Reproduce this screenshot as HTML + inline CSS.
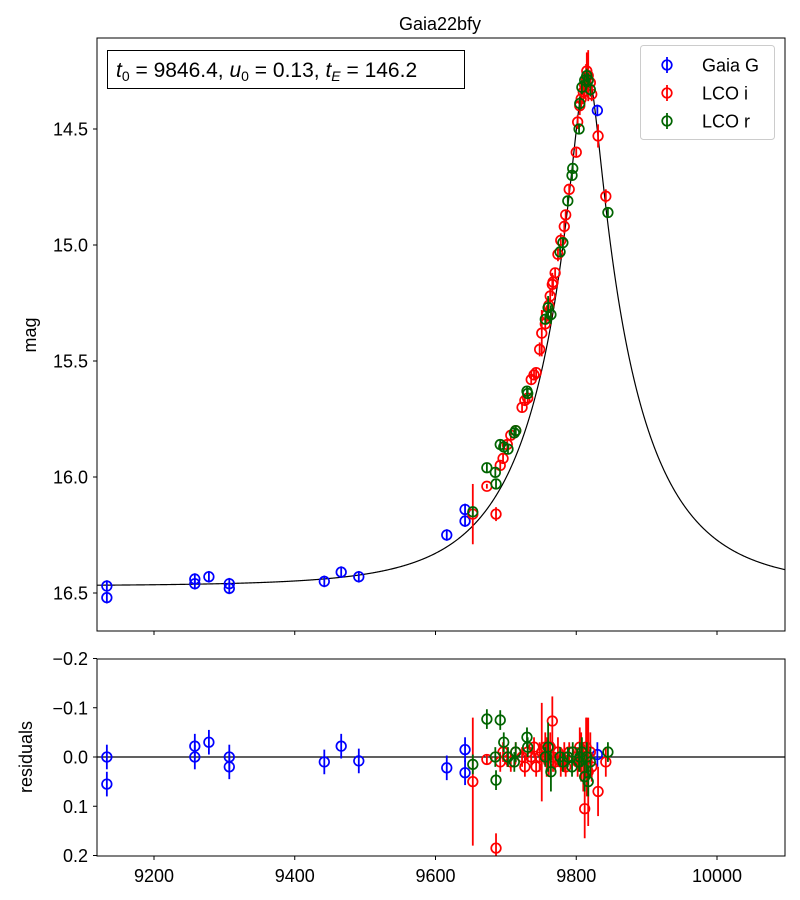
<!DOCTYPE html>
<html><head><meta charset="utf-8"><style>
body{margin:0;background:#fff}
svg{display:block;font-family:"Liberation Sans","DejaVu Sans",sans-serif}
</style></head><body>
<svg id="c" width="800" height="900"></svg>
<script>
const modelT0=[9815]; const modelU0=[0.13]; const modelTE=[146.2]; const baseMag=[16.47];
const gT=[9133,9133,9258,9258,9278,9307,9307,9442,9466,9491,9616,9642,9642,9830];
const gM=[16.47,16.52,16.46,16.44,16.43,16.46,16.48,16.45,16.41,16.43,16.25,16.14,16.19,14.42];
const gE=[.025,.025,.025,.025,.025,.025,.025,.025,.025,.025,.025,.025,.025,.025];
const gR=[0,.055,0,-.022,-.03,0,.02,.01,-.022,.008,.022,-.015,.032,-.005];
const iT=[9653,9673,9686,9692,9696,9702,9707,9714,9723,9727,9731,9736,9740,9743,9748,9751,9756,9758,9761,9763,9766,9767,9770,9774,9778,9783,9785,9790,9800,9802,9805,9807,9810,9812,9814,9815,9817,9820,9822,9831,9842];
const iM=[16.16,16.04,16.16,15.95,15.92,15.86,15.82,15.80,15.70,15.67,15.66,15.58,15.56,15.55,15.45,15.38,15.34,15.30,15.26,15.22,15.17,15.16,15.12,15.04,14.98,14.92,14.87,14.76,14.60,14.47,14.40,14.37,14.34,14.31,14.28,14.25,14.27,14.30,14.35,14.53,14.79];
const iE=[.13,.01,.03,.02,.02,.02,.02,.02,.02,.02,.02,.02,.02,.02,.03,.1,.03,.04,.03,.03,.05,.03,.02,.03,.03,.03,.02,.02,.02,.03,.04,.05,.05,.06,.06,.08,.11,.04,.03,.05,.03];
const iR=[.05,.005,.185,.01,-.01,0,.01,-.01,0,.02,-.01,0,-.02,.02,0,-.01,-.02,0,.01,-.02,-.073,0,.01,-.01,.01,0,.02,-.01,0,.01,-.02,0,.02,.105,-.02,0,.03,-.01,.02,.07,.01];
const rT=[9653,9673,9685,9686,9692,9697,9703,9712,9714,9730,9731,9756,9760,9764,9777,9781,9788,9794,9795,9804,9805,9808,9812,9815,9817,9820,9845];
const rM=[16.15,15.96,15.98,16.03,15.86,15.87,15.88,15.81,15.80,15.63,15.64,15.32,15.27,15.30,15.03,14.99,14.81,14.70,14.67,14.50,14.39,14.32,14.29,14.27,14.29,14.33,14.86];
const rE=[.02,.02,.02,.02,.02,.02,.02,.02,.02,.02,.02,.02,.05,.04,.02,.02,.02,.02,.02,.02,.03,.03,.03,.03,.03,.03,.02];
const rR=[.015,-.077,0,.047,-.075,-.03,0,.01,-.01,-.04,-.02,0,-.02,.03,0,.01,0,.02,-.01,.01,0,-.01,.04,0,.05,.01,-.01];
const xTicks=[9200,9400,9600,9800,10000];
const yTicks=[14.5,15.0,15.5,16.0,16.5];
const rTicks=[-0.2,-0.1,0.0,0.1,0.2];

const NS="http://www.w3.org/2000/svg", svg=document.getElementById('c');
const L=97,R=785,T1=38,B1=631,T2=659,B2=856;
const X=t=>154+(t-9200)*0.70375;
const Y=m=>129+(m-14.5)*232;
const YR=r=>757+r*492.5;
function el(tag,a,p){const e=document.createElementNS(NS,tag);for(const k in a)e.setAttribute(k,a[k]);(p||svg).appendChild(e);return e;}
function txt(s,a,p){const e=el('text',a,p);e.textContent=s;return e;}
function model(t){const u=Math.sqrt(modelU0[0]**2+((t-modelT0[0])/modelTE[0])**2);const A=(u*u+2)/(u*Math.sqrt(u*u+4));return baseMag[0]-2.5*Math.log10(A);}

const title=txt('Gaia22bfy',{x:440,y:30,'text-anchor':'middle','font-size':18});


el('defs',{}).innerHTML='<clipPath id="c1"><rect x="97" y="38" width="688" height="593"/></clipPath><clipPath id="c2"><rect x="97" y="659" width="688" height="197"/></clipPath>';

let d='';for(let px=L;px<=R;px+=0.5){const t=9200+(px-154)/0.70375;d+=(d?'L':'M')+px+','+Y(model(t)).toFixed(2);}
const mc=el('path',{d:d,fill:'none',stroke:'#000','stroke-width':1.2,'clip-path':'url(#c1)'});

const zl=el('line',{x1:L,x2:R,y1:YR(0),y2:YR(0),stroke:'#000','stroke-width':1.2});


function series(T,M,E,Rs,col,name){
  const g1=el('g',{'clip-path':'url(#c1)'});
  const g2=el('g',{'clip-path':'url(#c2)'});
  for(let k=0;k<T.length;k++){
    const x=X(T[k]);
    el('line',{x1:x,x2:x,y1:Y(M[k]-E[k]),y2:Y(M[k]+E[k]),stroke:col,'stroke-width':1.8},g1);
    const c=el('circle',{cx:x,cy:Y(M[k]),r:4.8,fill:'none',stroke:col,'stroke-width':1.7},g1);
    
    const y=YR(Rs[k]);
    el('line',{x1:x,x2:x,y1:YR(Rs[k]-E[k]),y2:YR(Rs[k]+E[k]),stroke:col,'stroke-width':1.8},g2);
    const c2=el('circle',{cx:x,cy:y,r:4.8,fill:'none',stroke:col,'stroke-width':1.7},g2);
    
  }
}
series(gT,gM,gE,gR,'#0000ff','gaia-g');
series(iT,iM,iE,iR,'#ff0000','lco-i');
series(rT,rM,rE,rR,'#006400','lco-r');

const f1=el('rect',{x:L,y:T1,width:R-L,height:B1-T1,fill:'none',stroke:'#000','stroke-width':1});

const f2=el('rect',{x:L,y:T2,width:R-L,height:B2-T2,fill:'none',stroke:'#000','stroke-width':1});

xTicks.forEach(v=>{const x=X(v);
  el('line',{x1:x,x2:x,y1:B1,y2:B1+4,stroke:'#000'});
  el('line',{x1:x,x2:x,y1:B2,y2:B2+4,stroke:'#000'});
  const t=txt(String(v),{x:x,y:B2+26,'text-anchor':'middle','font-size':18});
  });
yTicks.forEach(v=>{const y=Y(v);el('line',{x1:L-4,x2:L,y1:y,y2:y,stroke:'#000'});
  const t=txt(v.toFixed(1),{x:L-9,y:y+6.5,'text-anchor':'end','font-size':18});
  });
rTicks.forEach(v=>{const y=YR(v);el('line',{x1:L-4,x2:L,y1:y,y2:y,stroke:'#000'});
  const t=txt((v<0?'\u2212':'')+Math.abs(v).toFixed(1),{x:L-9,y:y+6.5,'text-anchor':'end','font-size':18});
  });
const yl=txt('mag',{x:0,y:0,'font-size':18,'text-anchor':'middle',transform:'translate(36,335) rotate(-90)'});

const rl=txt('residuals',{x:0,y:0,'font-size':18,'text-anchor':'middle',transform:'translate(32,757) rotate(-90)'});


const pb=el('g',{});
el('rect',{x:107.5,y:50.5,width:357,height:38,fill:'#fff',stroke:'#000','stroke-width':1},pb);
pb.innerHTML+='<text x="116" y="77" font-size="21" xml:space="preserve"><tspan font-style="italic">t</tspan><tspan font-size="14" dy="4">0</tspan><tspan dy="-4"> = 9846.4, </tspan><tspan font-style="italic">u</tspan><tspan font-size="14" dy="4">0</tspan><tspan dy="-4"> = 0.13, </tspan><tspan font-style="italic">t</tspan><tspan font-size="14" dy="4" font-style="italic">E</tspan><tspan dy="-4"> = 146.2</tspan></text>';

const lg=el('g',{});
el('rect',{x:640.5,y:45.5,width:134,height:94,rx:3,fill:'#fff',stroke:'#ccc','stroke-width':1},lg);
[['Gaia G','#0000ff',65],['LCO i','#ff0000',93],['LCO r','#006400',121]].forEach(([n,c,y])=>{
  const e=el('g',{},lg);
  el('line',{x1:667,x2:667,y1:y-8,y2:y+8,stroke:c,'stroke-width':1.8},e);
  el('circle',{cx:667,cy:y,r:4.8,fill:'none',stroke:c,'stroke-width':1.7},e);
  txt(n,{x:702,y:y+6.5,'font-size':18},e);});
</script>
</body></html>
